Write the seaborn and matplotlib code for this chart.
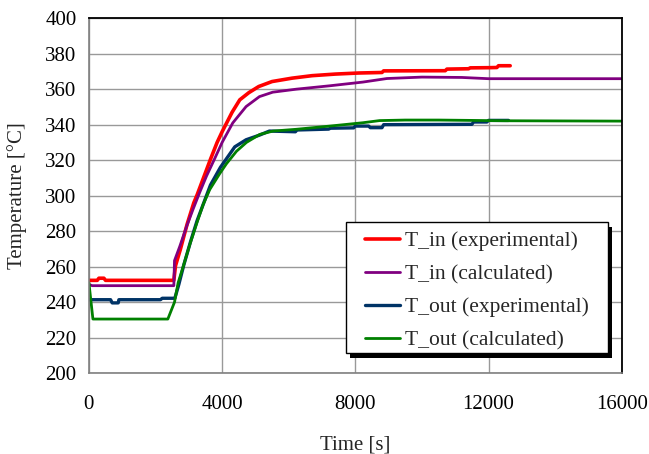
import matplotlib
matplotlib.use("Agg")
import matplotlib.pyplot as plt
from matplotlib.patches import Rectangle
import seaborn as sns
import pandas as pd

# ------------------------------------------------------------------
# Data (time in s, temperature in degC)
# ------------------------------------------------------------------
t_in_exp_time = [0, 250, 300, 450, 500, 2550, 2600, 2750, 2950, 3150, 3250, 3450, 3650,
                 3850, 4000, 4300, 4530, 4800, 5100, 5500, 6100, 6700, 7400, 8100,
                 8800, 8850, 10700, 10750, 11400, 11450, 12000, 12250, 12300, 12650]
t_in_exp_temp = [252.3, 252.3, 253.5, 253.5, 252.3, 252.3, 260.5, 270, 284, 296, 300.5, 310.5, 320.5,
                 330, 336, 347, 354, 358, 361.5, 364.3, 366.2, 367.6, 368.5, 369.1,
                 369.4, 370.3, 370.4, 371.3, 371.5, 372, 372.1, 372.2, 373.2, 373.2]

t_in_calc_time = [0, 100, 2550, 2570, 2730, 2930, 3130, 3330, 3530, 3780, 4000, 4320,
                  4720, 5120, 5520, 6230, 7230, 8230, 8950, 10000, 11200, 12000, 16000]
t_in_calc_temp = [250, 249.3, 249.3, 263.4, 271.5, 282.5, 292.5, 302, 311, 321, 330, 341,
                  350.2, 355.8, 358.3, 360, 361.9, 364, 366, 366.8, 366.6, 365.9, 365.9]

t_out_exp_time = [0, 650, 700, 880, 900, 2150, 2200, 2580, 2700, 2850, 3050, 3250, 3450,
                  3650, 3950, 4100, 4380, 4720, 5120, 5420, 6200, 6250, 7200, 7250, 7950,
                  8000, 8400, 8450, 8800, 8850, 11500, 11550, 11950, 12000, 12600]
t_out_exp_temp = [241.4, 241.4, 239.6, 239.6, 241.4, 241.4, 242.2, 242.2, 250, 261, 274, 286, 296,
                  306, 316, 320, 327.5, 331.5, 334.1, 336.4, 336, 337, 337.5, 338, 338.2,
                  339.2, 339.2, 338.3, 338.3, 340, 340.2, 341.5, 341.5, 342.4, 342.4]

t_out_calc_time = [0, 120, 2370, 2570, 2680, 2830, 3030, 3230, 3430, 3630, 3930, 4130,
                   4430, 4730, 5130, 5530, 6230, 7230, 8230, 8730, 9500, 10500, 11500,
                   12500, 16000]
t_out_calc_temp = [251, 230.5, 230.5, 240, 251, 260, 272.5, 284, 295, 303.5, 312.5, 318,
                   325, 330, 334.5, 336.4, 337.4, 339.2, 341.1, 342.3, 342.6, 342.6, 342.4,
                   342.2, 342]

series = [
    ("T_in (experimental)", t_in_exp_time, t_in_exp_temp, "#FF0000", 2.6),
    ("T_in (calculated)", t_in_calc_time, t_in_calc_temp, "#800080", 2.0),
    ("T_out (experimental)", t_out_exp_time, t_out_exp_temp, "#003366", 2.4),
    ("T_out (calculated)", t_out_calc_time, t_out_calc_temp, "#008000", 2.0),
]

sns.set_style("white")
plt.rcParams["font.family"] = ["Liberation Serif", "DejaVu Serif"]

fig = plt.figure(figsize=(6.49, 4.54), dpi=100)
ax = fig.add_axes([0.137, 0.178, 0.821, 0.782])

for label, t, temp, color, lw in series:
    df = pd.DataFrame({"time": t, "temp": temp})
    sns.lineplot(data=df, x="time", y="temp", ax=ax, color=color, linewidth=lw,
                 label=label, sort=False, estimator=None)

ax.set_xlim(0, 16000)
ax.set_ylim(200, 400)
ax.set_xticks(range(0, 16001, 4000))
ax.set_yticks(range(200, 401, 20))
ax.grid(True, color="#999999", linewidth=1)
ax.set_axisbelow(True)

for side in ["left", "bottom"]:
    ax.spines[side].set_color("#808080")
    ax.spines[side].set_linewidth(1.2)
for side in ["top", "right"]:
    ax.spines[side].set_color("black")
    ax.spines[side].set_linewidth(1.3)

ax.tick_params(axis="both", direction="out", length=4, color="#808080",
               labelsize=15, labelcolor="black")
ax.tick_params(axis="x", pad=12)
ax.tick_params(axis="y", pad=5)

ax.set_xlabel("Time [s]", fontsize=15, labelpad=15)
ax.set_ylabel("Temperature [°C]", fontsize=15, labelpad=13)

# legend box with a hard black shadow, drawn in axes coordinates
box_x0, box_y0, box_x1, box_y1 = 0.482, 0.056, 0.974, 0.425
ax.add_patch(Rectangle((box_x0 + 0.0075, box_y0 - 0.012), box_x1 - box_x0, box_y1 - box_y0,
                       transform=ax.transAxes, facecolor="black", edgecolor="none",
                       zorder=5, clip_on=False))
ax.add_patch(Rectangle((box_x0, box_y0), box_x1 - box_x0, box_y1 - box_y0,
                       transform=ax.transAxes, facecolor="white", edgecolor="black",
                       linewidth=1.0, zorder=6, clip_on=False))

leg = ax.legend(loc="upper left", bbox_to_anchor=(0.518, 0.400), fontsize=15.5,
                frameon=False, handlelength=1.63, handletextpad=0.25, borderpad=0,
                labelspacing=0.6, borderaxespad=0)
leg.set_zorder(7)

plt.savefig("out.png", dpi=100)
